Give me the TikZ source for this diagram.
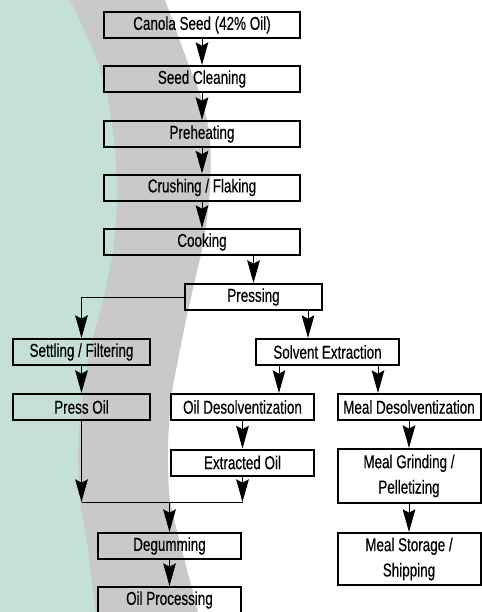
\documentclass[tikz,border=0pt]{standalone}
\usepackage{xcolor}
\usepackage{fontspec}
\setmainfont{Liberation Sans}[FakeStretch=0.72, FakeBold=0.35]
\usepackage{tikz}
\usetikzlibrary{arrows.meta,calc}
\definecolor{bandgreen}{HTML}{C5E1D5}
\definecolor{bandgray}{HTML}{C9C9C9}

\begin{document}
\begin{tikzpicture}[
        x=0.75pt, y=-0.75pt,
        every node/.style={font=\fontsize{14}{19}\selectfont},
        block/.style={rectangle, draw, line width=1.5pt, minimum width=107.25pt, minimum height=19.5pt, inner sep=2pt, align=center},
        wideblock/.style={block, minimum width=147pt},
        narrowblock/.style={block, minimum width=102.75pt},
        tallblock/.style={block, minimum height=40.5pt},
        line/.style={-{Stealth[length=17pt, width=9.5pt, inset=2.5pt]}, line width=0.75pt},
        conn/.style={line width=0.75pt}
    ]

        \useasboundingbox (0,0) rectangle (482,612);
        \clip (0,0) rectangle (482,612);

        % Background bands
        \fill[bandgray] (0,0) -- plot[smooth] coordinates {(165,0) (187,60) (202,100) (210,140) (210,190) (204,240) (195,280) (186,320) (178,360) (171,400) (168,450) (170,500) (182,550) (198,612)} -- (0,612) -- cycle;
        \fill[bandgreen] (0,0) -- plot[smooth] coordinates {(70,0) (97,60) (108,100) (115,150) (117,200) (113,250) (103,300) (90,350) (82,400) (78,450) (80,500) (88,550) (95,612)} -- (0,612) -- cycle;

        % Seed preparation
        \node[wideblock] (canola) at (202,25) {Canola Seed (42\% Oil)};
        \node[wideblock] (cleaning) at (202,79) {Seed Cleaning};
        \node[wideblock] (preheating) at (202,134) {Preheating};
        \node[wideblock] (crushing) at (202,187.5) {Crushing / Flaking};
        \node[wideblock] (cooking) at (202,242) {Cooking};
        \node[narrowblock] (pressing) at (253.5,297) {Pressing};

        % Oil and meal streams
        \node[narrowblock] (settling) at (81.5,352) {Settling / Filtering};
        \node[block] (solvent) at (327.5,352) {Solvent Extraction};
        \node[narrowblock] (pressoil) at (81.5,407) {Press Oil};
        \node[block] (oildesolv) at (242.5,407) {Oil Desolventization};
        \node[block] (mealdesolv) at (409,407) {Meal Desolventization};
        \node[block] (extracted) at (242.5,462.5) {Extracted Oil};
        \node[tallblock] (grinding) at (409,476) {Meal Grinding /\\ Pelletizing};
        \node[block, minimum height=39pt] (storage) at (409,559) {Meal Storage /\\ Shipping};

        % Oil refining
        \node[block] (degumming) at (169.5,546) {Degumming};
        \node[block] (processing) at (169.5,600) {Oil Processing};

        % Arrows down the preparation line
        \draw[line] (canola) -- (cleaning);
        \draw[line] (cleaning) -- (preheating);
        \draw[line] (preheating) -- (crushing);
        \draw[line] (crushing) -- (cooking);
        \draw[line] (cooking.south -| pressing) -- (pressing);

        % Arrows from Pressing
        \draw[line] (pressing.west) -| (settling.north);
        \coordinate (p2s) at ($(pressing.south)+(54.5,0)$);
        \draw[line] (p2s) -- (p2s |- solvent.north);
        \draw[line] (settling) -- (pressoil);

        % Arrows from Solvent Extraction
        \coordinate (s2o) at ($(solvent.south)+(-48.5,0)$);
        \coordinate (s2m) at ($(solvent.south)+(50.5,0)$);
        \draw[line] (s2o) -- (s2o |- oildesolv.north);
        \draw[line] (s2m) -- (s2m |- mealdesolv.north);
        \draw[line] (oildesolv) -- (extracted);
        \draw[line] (mealdesolv) -- (grinding);
        \draw[line] (grinding) -- (storage);

        % Oils merge into Degumming
        \coordinate (mergeL) at (81.5,502);
        \coordinate (mergeR) at (242.5,502);
        \draw[conn] (mergeL) -- (mergeR);
        \draw[line] (pressoil.south) -- (mergeL);
        \draw[line] (extracted.south) -- (mergeR);
        \draw[line] (mergeL -| degumming) -- (degumming);
        \draw[line] (degumming) -- (processing);

    \end{tikzpicture}
\end{document}
